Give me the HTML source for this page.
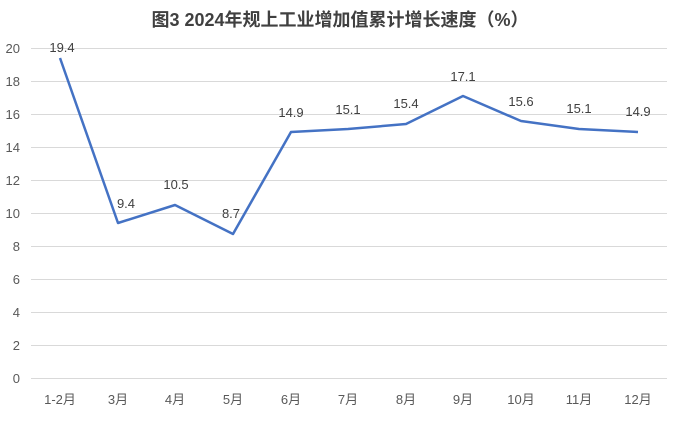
<!DOCTYPE html>
<html><head><meta charset="utf-8"><style>
body{margin:0;background:#fff;}
svg{display:block;font-family:"Liberation Sans","Noto Sans CJK SC",sans-serif;}
</style></head><body>
<svg width="680" height="421" viewBox="0 0 680 421" xmlns="http://www.w3.org/2000/svg">
<rect width="680" height="421" fill="#fff"/>
<text x="340" y="26" text-anchor="middle" font-size="18" font-weight="bold" fill="#404040">图3 2024年规上工业增加值累计增长速度（%）</text>
<g stroke="#d9d9d9" stroke-width="1">
<line x1="31" x2="667" y1="378.5" y2="378.5"/>
<line x1="31" x2="667" y1="345.5" y2="345.5"/>
<line x1="31" x2="667" y1="312.5" y2="312.5"/>
<line x1="31" x2="667" y1="279.5" y2="279.5"/>
<line x1="31" x2="667" y1="246.5" y2="246.5"/>
<line x1="31" x2="667" y1="213.5" y2="213.5"/>
<line x1="31" x2="667" y1="180.5" y2="180.5"/>
<line x1="31" x2="667" y1="147.5" y2="147.5"/>
<line x1="31" x2="667" y1="114.5" y2="114.5"/>
<line x1="31" x2="667" y1="81.5" y2="81.5"/>
<line x1="31" x2="667" y1="48.5" y2="48.5"/>
</g>
<g font-size="13" fill="#595959" text-anchor="end">
<text x="20" y="383">0</text><text x="20" y="350">2</text><text x="20" y="317">4</text>
<text x="20" y="284">6</text><text x="20" y="251">8</text><text x="20" y="218">10</text>
<text x="20" y="185">12</text><text x="20" y="152">14</text><text x="20" y="119">16</text>
<text x="20" y="86">18</text><text x="20" y="53">20</text>
</g>
<g font-size="13" fill="#595959" text-anchor="middle">
<text x="60" y="404">1-2月</text><text x="118" y="404">3月</text><text x="175" y="404">4月</text>
<text x="233" y="404">5月</text><text x="291" y="404">6月</text><text x="348" y="404">7月</text>
<text x="406" y="404">8月</text><text x="463" y="404">9月</text><text x="521" y="404">10月</text>
<text x="579" y="404">11月</text><text x="638" y="404">12月</text>
</g>
<polyline fill="none" stroke="#4472c4" stroke-width="2.5" stroke-linejoin="round"
points="60,58 118,223 175,205 233,234 291,132 348,129 406,124 463,96 521,121 579,129 638,132"/>
<g font-size="13" fill="#404040" text-anchor="middle">
<text x="62" y="52">19.4</text><text x="126" y="208">9.4</text><text x="176" y="189">10.5</text>
<text x="231" y="218">8.7</text><text x="291" y="117">14.9</text><text x="348" y="114">15.1</text>
<text x="406" y="108">15.4</text><text x="463" y="81">17.1</text><text x="521" y="106">15.6</text>
<text x="579" y="113">15.1</text><text x="638" y="116">14.9</text>
</g>
</svg>
</body></html>
